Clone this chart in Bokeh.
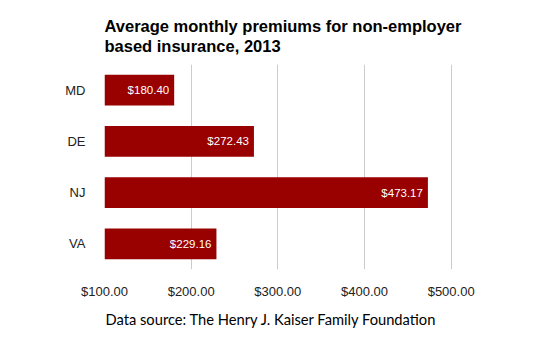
from bokeh.plotting import figure
from bokeh.models import ColumnDataSource, FactorRange, FixedTicker, NumeralTickFormatter, Title
from bokeh.core.properties import value
from bokeh.embed import file_html
from bokeh.resources import INLINE

states = ["MD", "DE", "NJ", "VA"]
premiums = [180.40, 272.43, 473.17, 229.16]
x_ticks = [100, 200, 300, 400, 500]
title_text = "Average monthly premiums for non-employer\nbased insurance, 2013"
source_note = "Data source: The Henry J. Kaiser Family Foundation"

src = ColumnDataSource(dict(
    state=states,
    value=premiums,
    label=["${:.2f}".format(v) for v in premiums],
))

p = figure(
    width=555, height=342,
    y_range=FactorRange(factors=list(reversed(states))),
    x_range=(100, 550),
    output_backend="svg", toolbar_location=None,
    min_border_left=104, min_border_right=61, min_border_top=64, min_border_bottom=73,
)
p.outline_line_color = None
p.background_fill_color = "white"
p.border_fill_color = "white"

p.hbar(y="state", left=100, right="value", height=0.6, source=src,
       fill_color="#990000", line_color=None)
p.text(x="value", y="state", text="label", source=src, x_offset=-5,
       text_align="right", text_baseline="middle", text_color="white",
       text_font=value("Liberation Sans"), text_font_size="11.5px")

p.xgrid.ticker = FixedTicker(ticks=x_ticks)
p.xgrid.grid_line_color = "#cccccc"
p.ygrid.grid_line_color = None

p.xaxis.ticker = FixedTicker(ticks=x_ticks)
p.xaxis.formatter = NumeralTickFormatter(format="$0.00")
for ax in (p.xaxis, p.yaxis):
    ax.axis_line_color = None
    ax.major_tick_line_color = None
    ax.minor_tick_line_color = None
    ax.major_label_text_font = "Liberation Sans"
    ax.major_label_text_font_size = "13px"
    ax.major_label_text_color = "#222222"
p.xaxis.major_label_standoff = 8
p.yaxis.major_label_standoff = 13

p.title = Title(text=title_text, align="left", text_font="Liberation Sans",
                text_font_style="bold", text_font_size="16.5px", text_color="black",
                text_line_height=1.15, standoff=18)

p.add_layout(Title(text=source_note, align="left", text_font="Lato",
                   text_font_size="14.7px", text_font_style="normal", text_color="black",
                   offset=1, standoff=12), "below")

open("out.html", "w").write(file_html(p, INLINE))
